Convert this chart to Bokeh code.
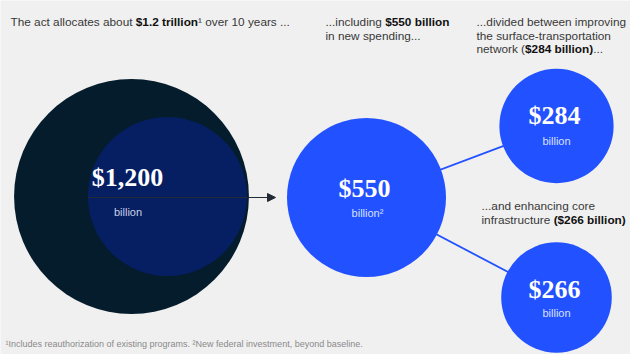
from bokeh.plotting import figure
from bokeh.models import Range1d, Arrow, NormalHead
from bokeh.embed import file_html
from bokeh.resources import INLINE
from bokeh.core.properties import value
import math

# ---- data ----
names = ["total", "new", "surface", "core"]
values = [1200, 550, 284, 266]          # $ billion
labels = ["$1,200", "$550", "$284", "$266"]
units = ["billion", "billion\u00b2", "billion", "billion"]

W, H = 630, 354
BG = "#f0f0f0"
DEEP = "#051c2c"
NAVY = "#061f63"
BLUE = "#2251ff"
FONT = "Liberation Sans"
FS = 11.8

p = figure(width=W, height=H, x_range=Range1d(0, W), y_range=Range1d(H, 0),
           output_backend="svg", toolbar_location=None, min_border=0)
p.axis.visible = False
p.grid.visible = False
p.outline_line_color = None
p.background_fill_color = BG
p.border_fill_color = BG

# area-proportional radius scale
k = 79.5 / math.sqrt(550)
r = [k * math.sqrt(v) for v in values]

cx = [131, 366, 556, 556]
cy = [196, 197, 125.5, 297]

# connector lines from new-spending bubble to the two components
p.segment(x0=[cx[1], cx[1]], y0=[cy[1], cy[1]], x1=[cx[2], cx[3]], y1=[cy[2], cy[3]],
          line_color=BLUE, line_width=1.8)

# total bubble and the new-spending share inside it
p.circle(x=[cx[0]], y=[cy[0]], radius=[r[0]], fill_color=DEEP, line_color=None)
inner_x = cx[0] + r[0] - r[1] - 2
p.circle(x=[inner_x], y=[cy[0]], radius=[r[1]], fill_color=NAVY, line_color=None)

# arrow
p.add_layout(Arrow(end=NormalHead(size=8, fill_color="#222a33", line_color="#222a33"),
                   x_start=inner_x - r[1], y_start=cy[0] + 1, x_end=275, y_end=cy[0] + 1,
                   line_color="#222a33", line_width=1))

# blue bubbles
p.circle(x=cx[1:], y=cy[1:], radius=r[1:], fill_color=BLUE, line_color=None)

# value labels
lx = [127, cx[1] - 2, cx[2] - 2, cx[3] - 2]
p.text(x=lx, y=[176.5, 187.5, 114.5, 288.5], text=labels,
       text_font=value("Liberation Serif"), text_font_size="26px", text_font_style="bold",
       text_color="white", text_align="center", text_baseline="alphabetic")
ux = [127.5, cx[1] + 1, cx[2], cx[3]]
p.text(x=ux[:1], y=[211], text=units[:1],
       text_font=value(FONT), text_font_size="11px",
       text_color="#c9d0e6", text_align="center", text_baseline="alphabetic")
p.text(x=ux[1:], y=[212, 140, 312], text=units[1:],
       text_font=value(FONT), text_font_size="11px",
       text_color="#d9e0ff", text_align="center", text_baseline="alphabetic")

# ---- annotation texts with regular / bold runs ----
REG_W = {" ": 278, "(": 333, ")": 333, "$": 556, ".": 278, ",": 278, "-": 333, "\u00b9": 333,
         "T": 611, "a": 556, "b": 556, "c": 500, "d": 556, "e": 556, "f": 278, "g": 556,
         "h": 556, "i": 222, "k": 500, "l": 222, "m": 833, "n": 556, "o": 556, "p": 556,
         "r": 333, "s": 500, "t": 278, "u": 556, "v": 500, "w": 722, "y": 500}
BOLD_W = {" ": 278, "(": 333, ")": 333, "$": 556, ".": 278, "b": 611, "i": 278, "l": 278,
          "n": 611, "o": 611, "r": 389, "t": 333}


def run_width(s, bold):
    tab = BOLD_W if bold else REG_W
    return sum(tab.get(ch, 556) for ch in s) / 1000.0 * FS


def rich_line(x0, y, runs):
    x = x0
    for s, b in runs:
        p.text(x=[x], y=[y], text=[s], text_font=value(FONT), text_font_size=f"{FS}px",
               text_color="#111111" if b else "#383838",
               text_font_style="bold" if b else "normal",
               text_align="left", text_baseline="alphabetic")
        x += run_width(s, b)


rich_line(10, 21.5, [("The act allocates about ", False), ("$1.2 trillion", True),
                     ("\u00b9 over 10 years ...", False)])

rich_line(325, 21.5, [("...including ", False), ("$550 billion", True)])
rich_line(325, 35, [("in new spending...", False)])

rich_line(476, 21.5, [("...divided between improving", False)])
rich_line(476, 35, [("the surface-transportation", False)])
rich_line(476, 48.5, [("network (", False), ("$284 billion)", True), ("...", False)])

rich_line(481, 205.5, [("...and enhancing core", False)])
rich_line(481, 219.5, [("infrastructure ", False), ("($266 billion)", True)])

# footnote
p.text(x=[5], y=[343], text=["\u00b9Includes reauthorization of existing programs. \u00b2New federal investment, beyond baseline."],
       text_font=value(FONT), text_font_size="9px", text_color="#8a8a8a",
       text_align="left", text_baseline="alphabetic")

open("out.html", "w").write(file_html(p, INLINE))
